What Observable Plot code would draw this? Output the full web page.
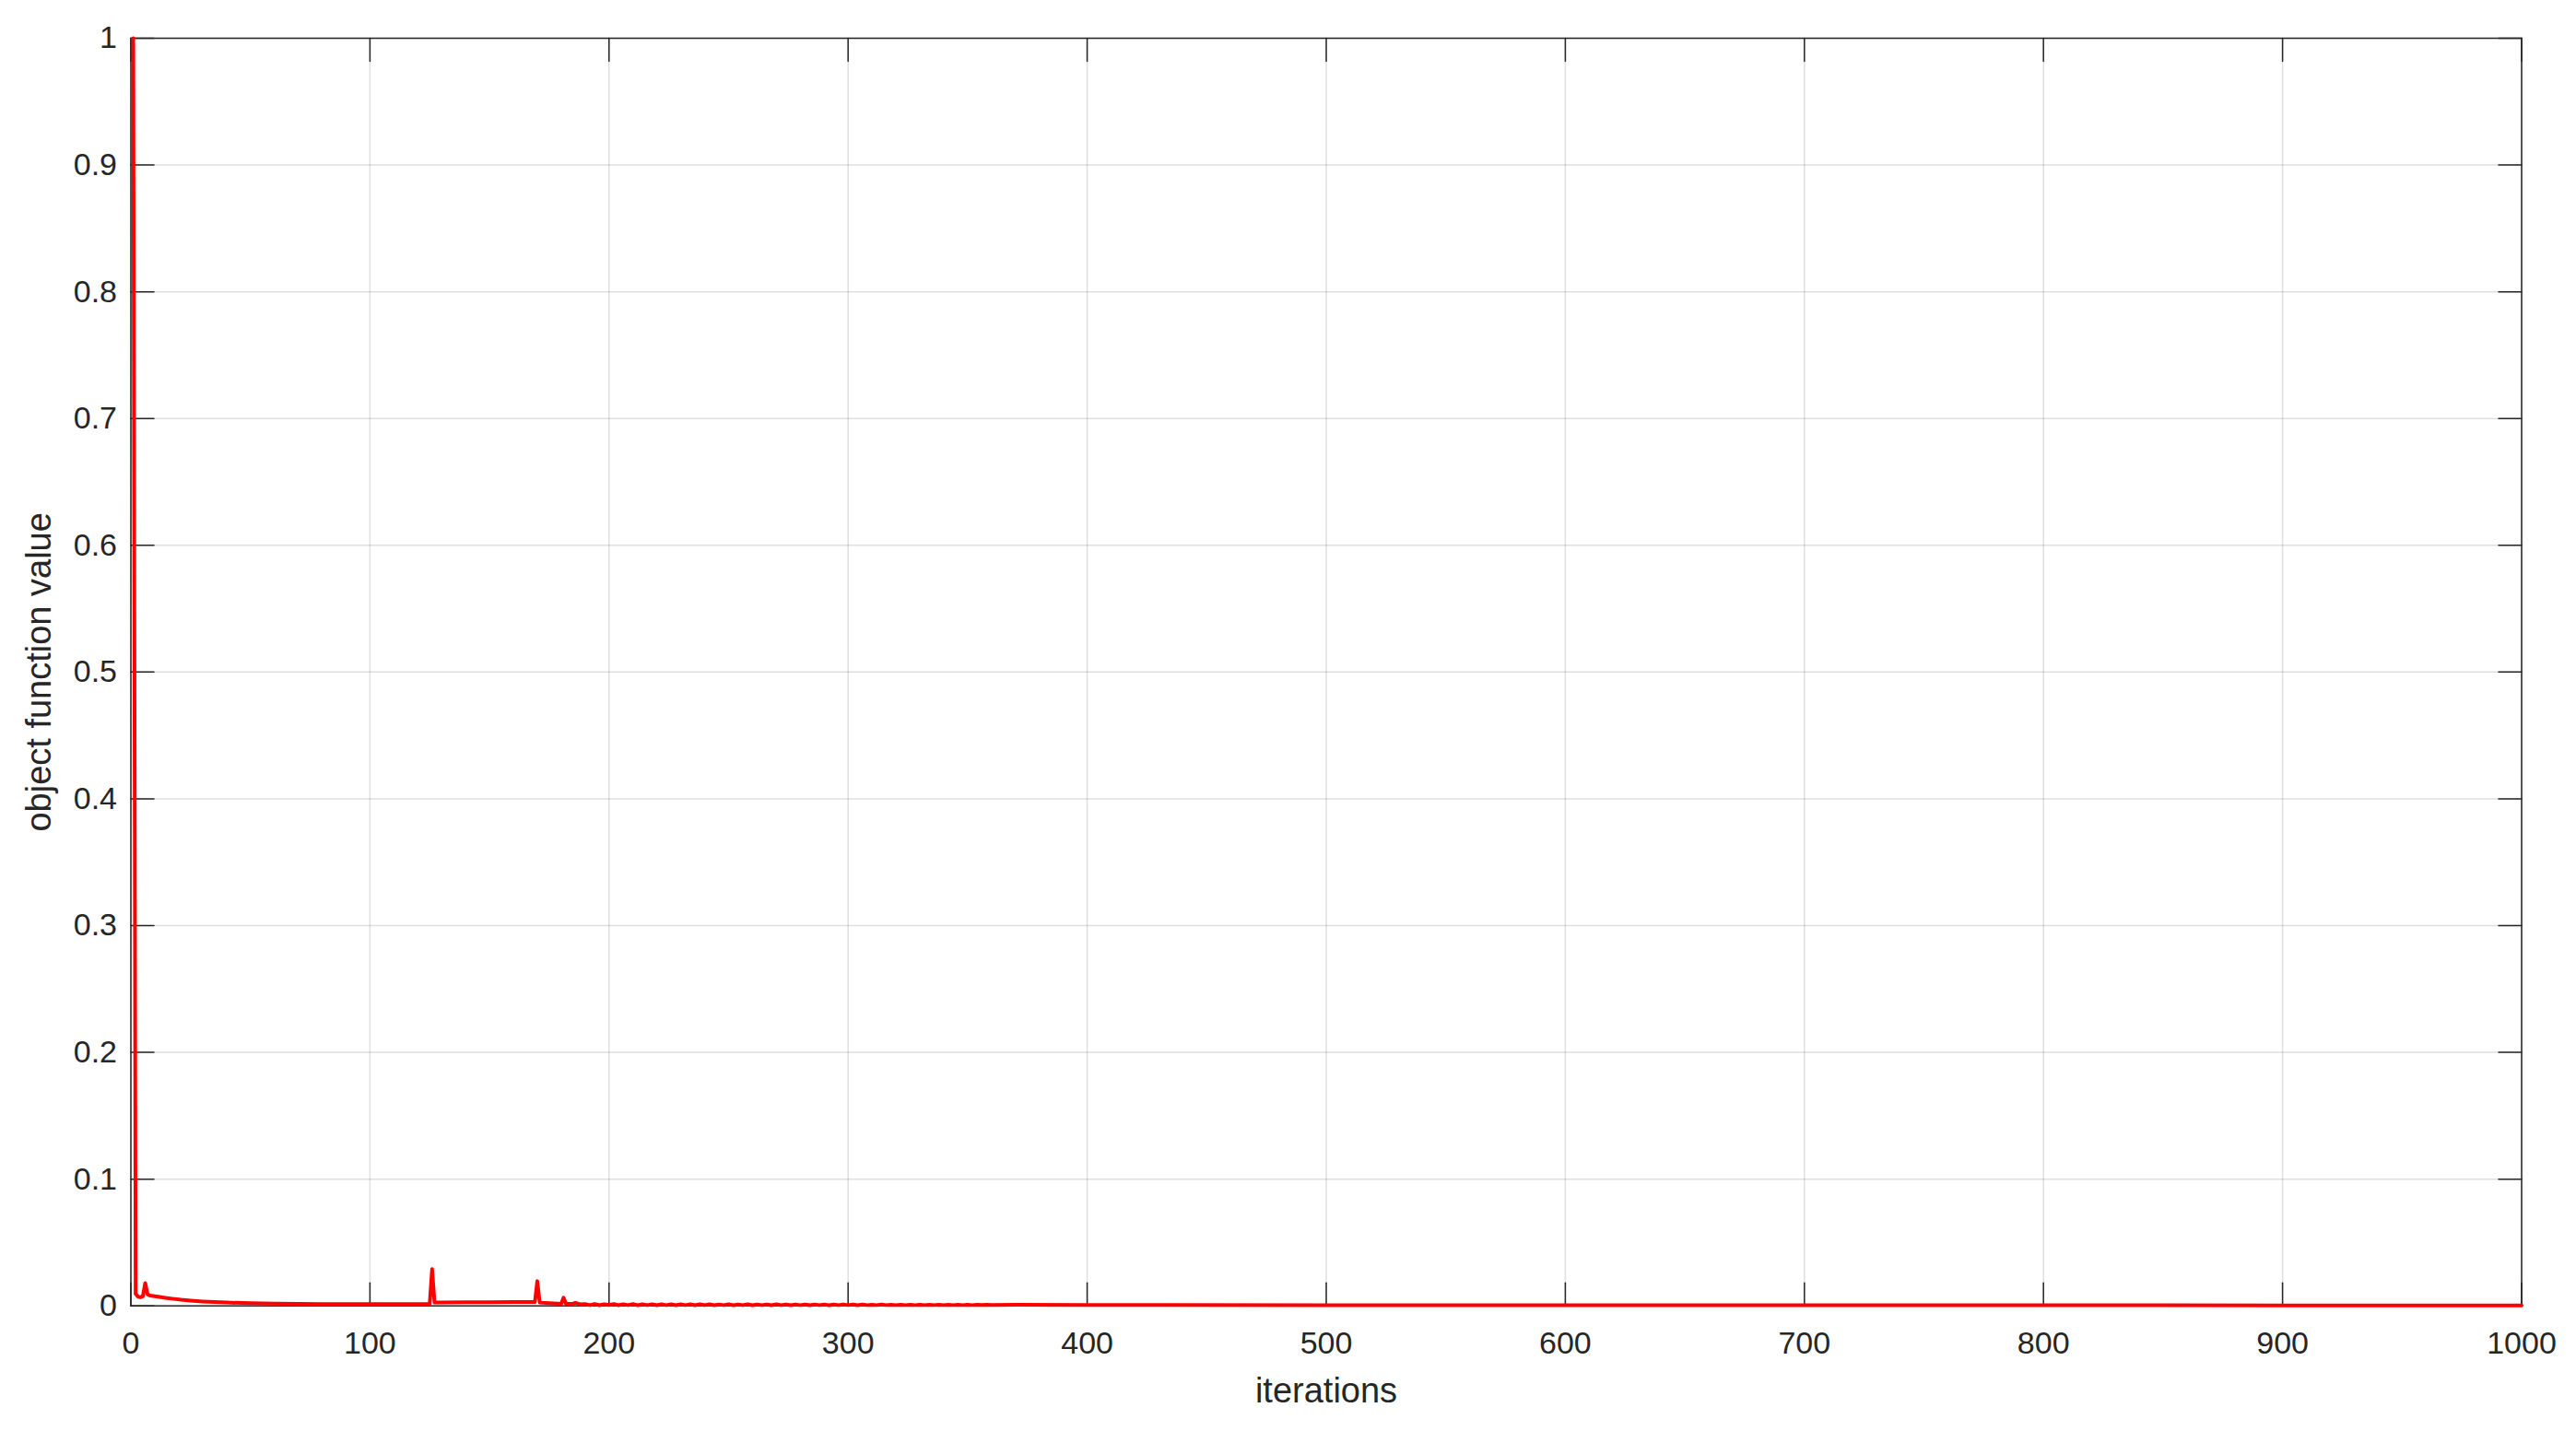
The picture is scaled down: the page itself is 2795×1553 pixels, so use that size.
<!DOCTYPE html>
<html><head><meta charset="utf-8">
<script src="https://cdn.jsdelivr.net/npm/d3@7"></script>
<script src="https://cdn.jsdelivr.net/npm/@observablehq/plot@0.6"></script>
<style>html,body{margin:0;padding:0;background:#fff;} #chart svg{display:block}</style>
</head><body><div id="chart"></div>
<script>
// ---- data ----
const earlyIter = [1,2,3,4,5,6,7,8,10,12,15,18,21,25,30,35,40,50,60,70,80,90,100,110,120,125,126,127,130,140,150,160,169,170,171,175,180,181,182,185,186,188];
const earlyVal  = [1.0,0.0095,0.0072,0.0068,0.0075,0.0180,0.0090,0.0082,0.0076,0.0070,0.0062,0.0055,0.0048,0.0042,0.0035,0.0030,0.0026,0.0021,0.0018,0.0016,0.0015,0.0015,0.0015,0.0015,0.0015,0.0016,0.0290,0.0026,0.0027,0.0028,0.0029,0.0030,0.0031,0.0195,0.0026,0.0022,0.0016,0.0065,0.0016,0.0018,0.0024,0.0012];
const rippleIter = [190,192,194,196,198,200,202,204,206,208,210,212,214,216,218,220,222,224,226,228,230,232,234,236,238,240,242,244,246,248,250,252,254,256,258,260,262,264,266,268,270,272,274,276,278,280,282,284,286,288,290,292,294,296,298,300,302,304,306,308,310,312,314,316,318,320,322,324,326,328,330,332,334,336,338,340,342,344,346,348,350,352,354,356,358,360];
const rippleVal = [
0.0014,0.0006,0.0015,0.0005,0.0013,0.0007,0.0014,0.0005,0.0013,0.0006,
0.0014,0.0005,0.0012,0.0006,0.0013,0.0005,0.0012,0.0006,0.0013,0.0005,
0.0012,0.0006,0.0012,0.0005,0.0013,0.0006,0.0012,0.0005,0.0011,0.0006,
0.0012,0.0005,0.0011,0.0006,0.0012,0.0005,0.0011,0.0006,0.0011,0.0005,
0.0012,0.0006,0.0011,0.0005,0.0011,0.0006,0.0010,0.0005,0.0011,0.0006,
0.0010,0.0005,0.0011,0.0006,0.0010,0.0006,0.0010,0.0005,0.0010,0.0006,
0.0009,0.0006,0.0010,0.0006,0.0009,0.0006,0.0009,0.0006,0.0009,0.0006,
0.0009,0.0006,0.0008,0.0006,0.0009,0.0006,0.0008,0.0006,0.0008,0.0006,
0.0008,0.0006,0.0008,0.0007,0.0008,0.0007];
const tailIter = [370,400,500,600,700,800,850,900,1000];
const tailVal  = [0.0008,0.0007,0.0006,0.0006,0.0005,0.0005,0.0005,0.0004,0.0004];

const xTicks = [0,100,200,300,400,500,600,700,800,900,1000];
const yTicks = [0,0.1,0.2,0.3,0.4,0.5,0.6,0.7,0.8,0.9,1];
const xLabel = "iterations";
const yLabel = "object function value";

// ---- build ----
const iterations = earlyIter.concat(rippleIter, tailIter);
const values = earlyVal.concat(rippleVal, tailVal);
const data = iterations.map((it, i) => ({it, v: values[i]}));

const axisColor = "#262626";
const tickLen = 25;
const tickShape = {draw(ctx, l) { ctx.moveTo(0, 0); ctx.lineTo(0, -l); }};
const tickOpts = {length: tickLen, anchor: "start", shape: tickShape, stroke: axisColor, strokeWidth: 1.5};

const chart = Plot.plot({
  width: 2795, height: 1553,
  marginLeft: 141.5, marginRight: 59.5, marginTop: 41, marginBottom: 136.3,
  style: {fontFamily: "'Liberation Sans', Arial, Helvetica, sans-serif", background: "#fff", color: axisColor},
  x: {domain: [0, 1000]},
  y: {domain: [0, 1]},
  marks: [
    Plot.gridX(xTicks, {stroke: axisColor, strokeOpacity: 0.15, strokeWidth: 1.5}),
    Plot.gridY(yTicks, {stroke: axisColor, strokeOpacity: 0.15, strokeWidth: 1.5}),
    Plot.vector(xTicks, {x: d => d, frameAnchor: "bottom", rotate: 0, ...tickOpts}),
    Plot.vector(xTicks, {x: d => d, frameAnchor: "top", rotate: 180, ...tickOpts}),
    Plot.vector(yTicks, {y: d => d, frameAnchor: "left", rotate: 90, ...tickOpts}),
    Plot.vector(yTicks, {y: d => d, frameAnchor: "right", rotate: -90, ...tickOpts}),
    Plot.frame({stroke: axisColor, strokeWidth: 1.5}),
    Plot.axisX(xTicks, {tickSize: 0, tickPadding: 28, fontSize: 34, tickFormat: d => String(d), label: null}),
    Plot.axisY(yTicks, {tickSize: 0, tickPadding: 15, fontSize: 34, tickFormat: d => String(d), label: null}),
    Plot.line(data, {x: "it", y: "v", stroke: "#ff0000", strokeWidth: 4, strokeLinejoin: "round"}),
    Plot.text([xLabel], {frameAnchor: "bottom", dy: 105, lineAnchor: "bottom", textAnchor: "middle", text: d => d, fontSize: 38}),
    Plot.text([yLabel], {frameAnchor: "left", dx: -99, rotate: -90, textAnchor: "middle", text: d => d, fontSize: 38})
  ]
});
document.getElementById("chart").appendChild(chart);
</script>
</body></html>
